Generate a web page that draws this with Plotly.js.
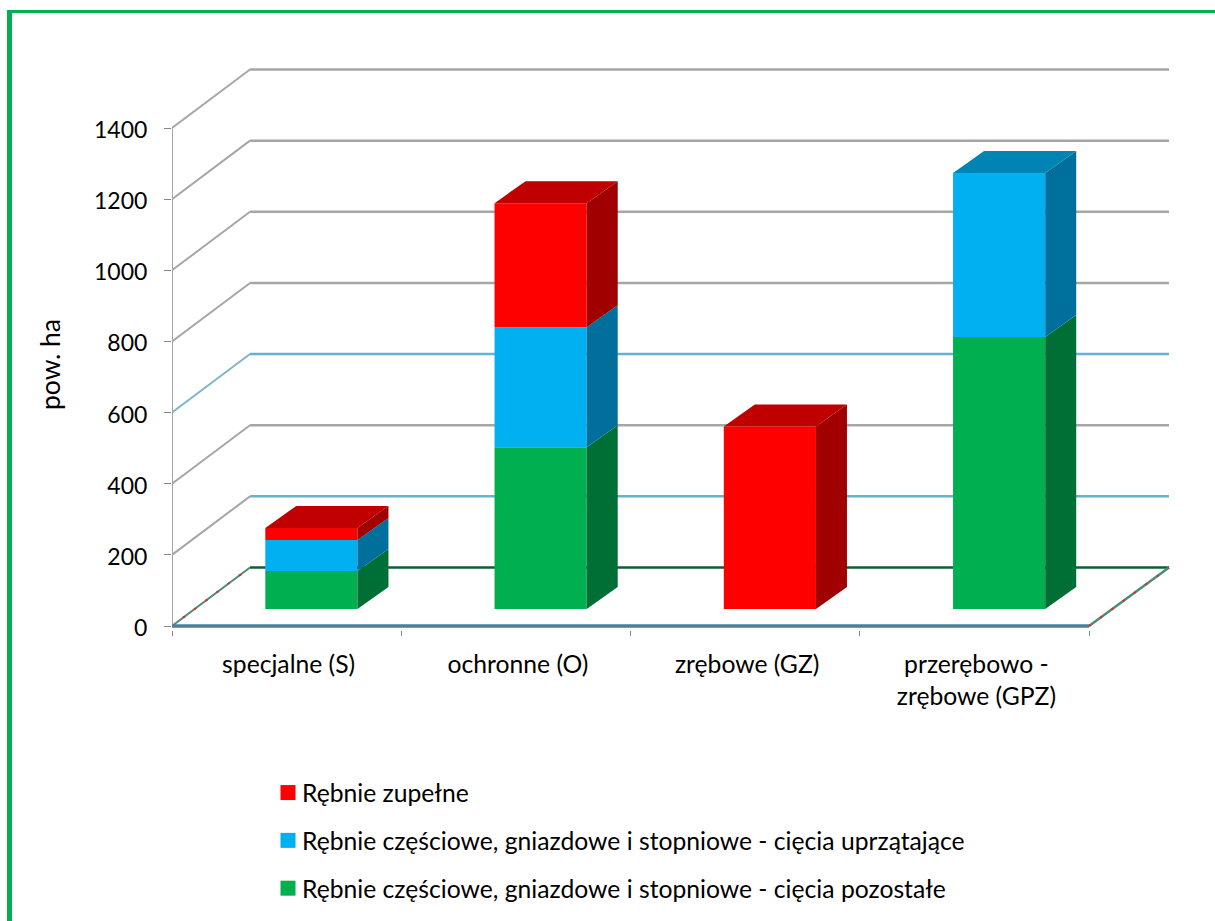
<!DOCTYPE html>
<html>
<head>
<meta charset="utf-8">
<script src="https://cdn.plot.ly/plotly-3.0.1.min.js"></script>
<style>html,body{margin:0;padding:0;background:#fff}#chart{width:1215px;height:921px}</style>
</head>
<body>
<div id="chart"></div>
<script>
// ---------- data ----------
const categories = ['specjalne (S)', 'ochronne (O)', 'zrębowe (GZ)', 'przerębowo -<br>zrębowe (GPZ)'];
const zupelne    = [34, 349, 513, 0];
const uprzatajace = [87, 337, 0, 461];
const pozostale  = [107, 455, 0, 765];
const yTicks = [0, 200, 400, 600, 800, 1000, 1200, 1400];
const yTitle = 'pow. ha';
const nameZupelne = 'Rębnie zupełne';
const nameUprz = 'Rębnie częściowe, gniazdowe i stopniowe - cięcia uprzątające';
const namePoz = 'Rębnie częściowe, gniazdowe i stopniowe - cięcia pozostałe';

// ---------- geometry of the fake perspective ----------
const W = 1215, H = 921;
const L = 172, R = 1170, T = 60, B = 630, Y0 = 626;
const PXU_X = 229.25, PXU_Y = 498 / 1400;
const xOf = c => c;                      // category index
const xMin = -0.5, xEnd = 3.5;
const xRange = [xMin, xMin + (R - L) / PXU_X];
const yRange = [-(B - Y0) / PXU_Y, (Y0 - T) / PXU_Y];
const wallDx0 = 78 / PXU_X, wallDx1 = 80 / PXU_X, wallDy = 58.5 / PXU_Y;
const barOff = -0.093, barW = 0.402, barBase = 17 / PXU_Y;
const depthX = 31 / PXU_X, depthY = 22 / PXU_Y;
const px = v => (v - L) / (R - L), py = v => (B - v) / (B - T);

const GRID = '#a6a6a6', GRIDB = '#62b4d2', AXIS = '#a6a6a6';
const gridColor = v => (v === 200 || v === 600) ? GRIDB : (v === 0 ? '#0b5f38' : GRID);
const diagColor = v => v === 600 ? '#7fb6cc' : (v === 0 ? '#4f8a74' : GRID);

const shapes = [];
const line = (x0, y0, x1, y1, color, width, extra) => shapes.push(Object.assign({
  type: 'line', xref: 'x', yref: 'y', layer: 'below', x0, y0, x1, y1, line: {color, width}
}, extra || {}));

yTicks.forEach(v => {
  line(xMin, v, xMin + wallDx0, v + wallDy, diagColor(v), 2);
  line(xMin + wallDx0, v + wallDy, xEnd + wallDx1, v + wallDy, gridColor(v), 2.5);
});
// dotted red over the floor diagonals
line(xMin, 0, xMin + wallDx0, wallDy, '#ee2222', 2, {line: {color: '#ee2222', width: 2, dash: '2px,12px'}});
line(xEnd, 0, xEnd + wallDx1, wallDy, '#4f8a74', 2.5);
line(xEnd, 0, xEnd + wallDx1, wallDy, '#ee2222', 2, {line: {color: '#ee2222', width: 2, dash: '2px,12px'}});
// axes
line(xMin, 0, xMin, 1400, AXIS, 2);
line(xMin, 0, xEnd, 0, '#4d8097', 3.5);
// green frame of the page
shapes.push({type: 'rect', xref: 'paper', yref: 'paper', layer: 'above', x0: px(7), x1: px(12), y0: py(H), y1: py(10), line: {width: 0}, fillcolor: '#00b050'});
shapes.push({type: 'rect', xref: 'paper', yref: 'paper', layer: 'above', x0: px(7), x1: px(W), y0: py(13), y1: py(10), line: {width: 0}, fillcolor: '#00b050'});

// ---------- stacks ----------
const stack = [
  {name: namePoz, v: pozostale, c: '#00b050', top: '#00843c', side: '#006f36'},
  {name: nameUprz, v: uprzatajace, c: '#00b0f0', top: '#0084b4', side: '#006f9c'},
  {name: nameZupelne, v: zupelne, c: '#ff0000', top: '#c00000', side: '#a00000'}
];
const running = categories.map(() => barBase);
const totals = categories.map((_, i) => stack.reduce((s, r) => s + r.v[i], 0));
const barTraces = [], faceTraces = [];
stack.forEach(s => {
  const bases = running.slice();
  barTraces.push({
    type: 'bar', x: categories.map((_, i) => xOf(i)), y: s.v, base: bases,
    offset: barOff, width: barW, marker: {color: s.c, line: {width: 0}},
    name: s.name, showlegend: false, hoverinfo: 'skip'
  });
  const sx = [], sy = [], tx = [], ty = [];
  s.v.forEach((v, i) => {
    if (!v) return;
    const xr = i + barOff + barW, xl = i + barOff, b = bases[i], t = b + v;
    sx.push(xr, xr + depthX, xr + depthX, xr, xr, null);
    sy.push(b, b + depthY, t + depthY, t, b, null);
    if (Math.abs(t - barBase - totals[i]) < 1e-6) {
      tx.push(xl, xl + depthX, xr + depthX, xr, xl, null);
      ty.push(t, t + depthY, t + depthY, t, t, null);
    }
    running[i] = t;
  });
  faceTraces.push({type: 'scatter', mode: 'lines', x: sx, y: sy, fill: 'toself', fillcolor: s.side,
    line: {width: 0, color: s.side}, showlegend: false, hoverinfo: 'skip'});
  if (tx.length) faceTraces.push({type: 'scatter', mode: 'lines', x: tx, y: ty, fill: 'toself', fillcolor: s.top,
    line: {width: 0, color: s.top}, showlegend: false, hoverinfo: 'skip'});
});
// legend entries, top to bottom as in the picture
const legendTraces = [stack[2], stack[1], stack[0]].map((s, i) => ({
  type: 'scatter', mode: 'markers', x: [null], y: [null], name: s.name,
  legendgroup: 'g' + i, marker: {symbol: 'square', size: 15, color: s.c, line: {width: 0}},
  hoverinfo: 'skip'
}));

const FONT = 'Lato, Carlito, sans-serif';
const layout = {
  width: W, height: H, paper_bgcolor: '#fff', plot_bgcolor: 'rgba(0,0,0,0)',
  margin: {l: L, r: W - R, t: T, b: H - B, pad: 0, autoexpand: false},
  barmode: 'overlay', font: {family: FONT, size: 24.7, color: '#000'},
  xaxis: {
    type: 'linear', range: xRange, tickmode: 'array',
    tickvals: categories.map((_, i) => xOf(i)), ticktext: categories,
    ticks: 'outside', ticklen: 12, tickcolor: 'rgba(0,0,0,0)', tickangle: 0,
    ticklabelshift: 2,
    showgrid: false, zeroline: false, showline: false,
    tickfont: {family: FONT, size: 24.7, color: '#000'},
    minor: {tickmode: 'array', tickvals: [-0.5, 0.5, 1.5, 2.5, 3.5], ticks: 'outside', ticklen: 5, tickwidth: 1, tickcolor: '#868686', showgrid: false}
  },
  yaxis: {
    range: yRange, tickmode: 'array', tickvals: yTicks, ticktext: yTicks.map(String),
    ticks: 'outside', ticklen: 7, tickwidth: 1, tickcolor: '#868686',
    ticklabelstandoff: 12, ticklabelshift: 2,
    showgrid: false, zeroline: false, showline: false,
    tickfont: {family: FONT, size: 23, color: '#000'}
  },
  annotations: [{
    text: yTitle, textangle: -90, xref: 'paper', yref: 'paper', x: px(50), y: py(365),
    xanchor: 'center', yanchor: 'middle', showarrow: false,
    font: {family: FONT, size: 26.5, color: '#000'}
  }],
  showlegend: true,
  legend: {
    x: px(268), y: py(770), xanchor: 'left', yanchor: 'top',
    traceorder: 'grouped', tracegroupgap: 12.7, itemsizing: 'trace', itemwidth: 30,
    font: {family: FONT, size: 24.7, color: '#000'}, bgcolor: 'rgba(0,0,0,0)', borderwidth: 0
  },
  shapes
};
Plotly.newPlot('chart', [...barTraces, ...faceTraces, ...legendTraces], layout, {displayModeBar: false, staticPlot: true}).then(gd => {
  // the reference keeps its legend text closer to the swatch than Plotly's minimum item width
  gd.querySelectorAll('.legendtext').forEach(t => t.setAttribute('x', parseFloat(t.getAttribute('x')) - 6));
});
</script>
</body>
</html>
